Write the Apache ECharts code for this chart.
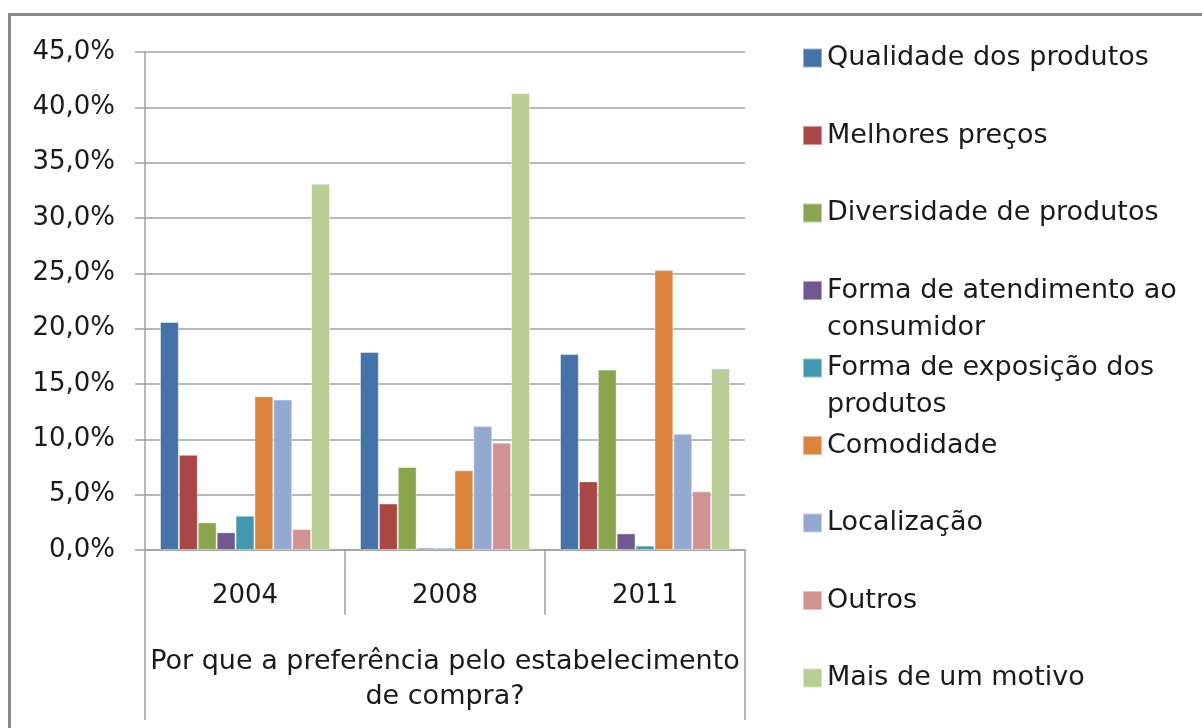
<!DOCTYPE html>
<html>
<head>
<meta charset="utf-8">
<script src="https://cdn.jsdelivr.net/npm/echarts@6/dist/echarts.min.js"></script>
<style>
    html, body { margin: 0; padding: 0; background: #fff; }
    #frame { position: absolute; left: 8px; top: 13px; width: 1300px; height: 900px; border: 3px solid #8a8a8a; }
    #chart { position: absolute; left: 0; top: 0; width: 1202px; height: 728px; }
</style>
</head>
<body>
<div id="frame"></div>
<div id="chart"></div>
<script>
const years = ['2004', '2008', '2011']
const question = ['Por que a preferência pelo estabelecimento\nde compra?']
const names = [
    'Qualidade dos produtos',
    'Melhores preços',
    'Diversidade de produtos',
    'Forma de atendimento ao consumidor',
    'Forma de exposição dos produtos',
    'Comodidade',
    'Localização',
    'Outros',
    'Mais de um motivo'
]
// percent values per reason, in order 2004, 2008, 2011
const qualidade = [20.6, 17.9, 17.7]
const precos = [8.6, 4.2, 6.2]
const diversidade = [2.5, 7.5, 16.3]
const atendimento = [1.6, 0.2, 1.5]
const exposicao = [3.1, 0.2, 0.4]
const comodidade = [13.9, 7.2, 25.3]
const localizacao = [13.6, 11.2, 10.5]
const outros = [1.9, 9.7, 5.3]
const maisDeUm = [33.1, 41.3, 16.4]

const values = [qualidade, precos, diversidade, atendimento, exposicao, comodidade, localizacao, outros, maisDeUm]
const colors = ['#4572A7', '#AA4643', '#89A54E', '#71588F', '#4198AF', '#DB843D', '#93A9CF', '#D19392', '#B9CD96']
const wrapped = {
    'Forma de atendimento ao consumidor': 'Forma de atendimento ao\nconsumidor',
    'Forma de exposição dos produtos': 'Forma de exposição dos\nprodutos'
}

const font = 'DejaVu Sans'
const textColor = '#1a1a1a'
const gray = '#a0a0a0'
const lineH = 37

const myChart = echarts.init(document.getElementById('chart'))

// one legend per entry so the spacing stays fixed like the original,
// wrapped entries get an empty leading line so the first line sits on the marker
const legends = names.map((name, i) => {
    const lines = (wrapped[name] || name).split('\n').length
    const center = 58 + i * 77.5
    return {
        data: [name],
        left: 802,
        top: center - lineH * (2 * lines - 1) / 2,
        padding: 0,
        itemWidth: 19,
        itemHeight: 19,
        icon: 'rect',
        selectedMode: false,
        formatter: n => wrapped[n] ? '\n' + wrapped[n] : n,
        textStyle: {
            fontFamily: font,
            fontSize: 27,
            color: textColor,
            lineHeight: lineH
        }
    }
})

const option = {
    animation: false,
    color: colors,
    legend: legends,
    grid: {
        left: 145,
        right: 457,
        top: 52,
        bottom: 178
    },
    xAxis: [
        {
            type: 'category',
            data: years,
            axisLine: { lineStyle: { color: gray, width: 1.5 } },
            axisTick: { show: true, interval: 0, length: 65, lineStyle: { color: gray, width: 1.5 } },
            axisLabel: {
                fontFamily: font,
                fontSize: 26,
                color: textColor,
                margin: 31,
                lineHeight: 30
            }
        },
        {
            type: 'category',
            position: 'bottom',
            data: question,
            axisLine: { show: false },
            axisTick: { show: true, interval: 0, length: 170, lineStyle: { color: gray, width: 1.5 } },
            axisLabel: {
                fontFamily: font,
                fontSize: 27,
                color: textColor,
                margin: 94,
                lineHeight: 35,
                align: 'center'
            }
        }
    ],
    yAxis: {
        type: 'value',
        min: 0,
        max: 45,
        interval: 5,
        axisLine: { show: true, lineStyle: { color: gray, width: 1.5 } },
        axisTick: { show: true, length: 10, lineStyle: { color: gray, width: 1.5 } },
        splitLine: { lineStyle: { color: gray, width: 1.5 } },
        axisLabel: {
            fontFamily: font,
            fontSize: 26,
            color: textColor,
            margin: 30,
            formatter(value) {
                return value.toFixed(1).replace('.', ',') + '%'
            }
        }
    },
    series: names.map((name, i) => ({
        name: name,
        type: 'bar',
        data: values[i],
        barGap: '0%',
        barCategoryGap: '15%',
        itemStyle: {
            borderColor: 'rgba(255,255,255,0.45)',
            borderWidth: 1
        }
    }))
}

myChart.setOption(option)
</script>
</body>
</html>
